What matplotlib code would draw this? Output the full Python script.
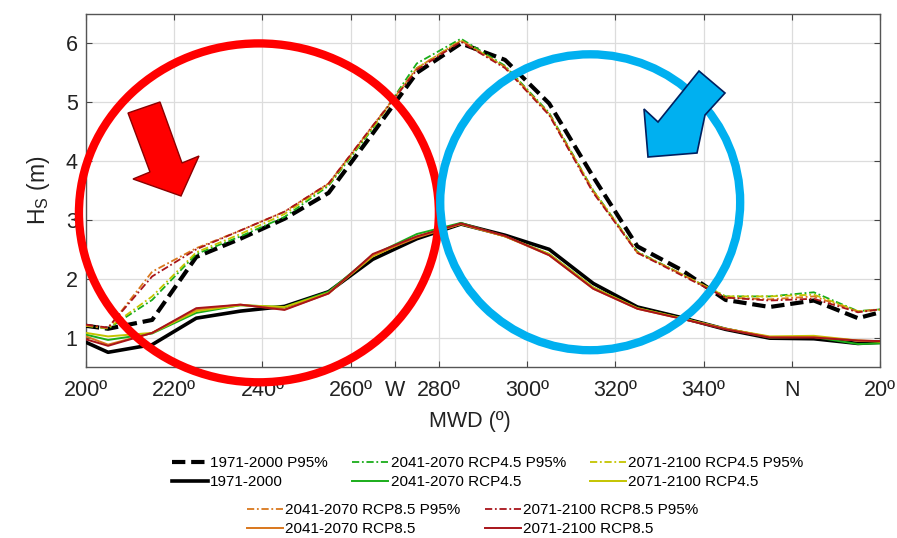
import matplotlib
matplotlib.use("Agg")
import matplotlib.pyplot as plt
from matplotlib.patches import Ellipse, Polygon

plt.rcParams['font.family'] = ['Liberation Sans', 'DejaVu Sans']

# mean wave direction (bin centres, with the ends of the range)
mwd = [200, 205, 215, 225, 235, 245, 255, 265, 275, 285, 295, 305, 315, 325, 335, 345, 355, 365, 375, 380]

hist_p95 = [1.20, 1.15, 1.30, 2.37, 2.68, 3.02, 3.46, 4.47, 5.50, 6.00, 5.72, 4.98, 3.73, 2.55, 2.15, 1.64, 1.52, 1.63, 1.33, 1.43]
hist = [0.92, 0.75, 0.88, 1.33, 1.45, 1.53, 1.78, 2.33, 2.68, 2.93, 2.74, 2.50, 1.92, 1.52, 1.34, 1.14, 0.99, 0.98, 0.90, 0.92]

rcp45_mid_p95 = [1.20, 1.15, 1.64, 2.42, 2.72, 3.05, 3.58, 4.55, 5.66, 6.08, 5.62, 4.82, 3.50, 2.46, 2.08, 1.70, 1.70, 1.77, 1.45, 1.48]
rcp45_mid = [1.05, 0.96, 1.07, 1.42, 1.55, 1.52, 1.78, 2.40, 2.76, 2.95, 2.72, 2.42, 1.85, 1.50, 1.33, 1.15, 1.00, 1.01, 0.89, 0.90]
rcp45_end_p95 = [1.20, 1.16, 1.70, 2.45, 2.76, 3.10, 3.60, 4.57, 5.58, 6.05, 5.60, 4.80, 3.50, 2.45, 2.08, 1.70, 1.70, 1.73, 1.45, 1.47]
rcp45_end = [1.08, 1.02, 1.08, 1.45, 1.55, 1.52, 1.76, 2.38, 2.72, 2.93, 2.72, 2.42, 1.85, 1.50, 1.33, 1.15, 1.02, 1.03, 0.95, 0.93]

rcp85_mid_p95 = [1.21, 1.16, 2.12, 2.52, 2.82, 3.14, 3.62, 4.60, 5.58, 6.05, 5.60, 4.80, 3.48, 2.44, 2.08, 1.68, 1.65, 1.70, 1.44, 1.48]
rcp85_mid = [1.02, 0.88, 1.08, 1.48, 1.56, 1.48, 1.75, 2.40, 2.70, 2.93, 2.72, 2.40, 1.83, 1.49, 1.32, 1.15, 1.01, 1.01, 0.95, 0.94]
rcp85_end_p95 = [1.22, 1.17, 2.04, 2.50, 2.82, 3.14, 3.62, 4.60, 5.55, 6.03, 5.58, 4.78, 3.46, 2.44, 2.06, 1.68, 1.63, 1.66, 1.43, 1.48]
rcp85_end = [0.97, 0.86, 1.08, 1.50, 1.56, 1.47, 1.75, 2.42, 2.72, 2.94, 2.73, 2.40, 1.83, 1.49, 1.32, 1.14, 1.00, 1.00, 0.95, 0.94]

xtick_pos = [200, 220, 240, 260, 270, 280, 300, 320, 340, 360, 380]
xtick_labels = ['200º', '220º', '240º', '260º', 'W', '280º', '300º', '320º', '340º', 'N', '20º']

green = '#1aad1a'
yellow = '#c4c400'
orange = '#d9771c'
darkred = '#a8141a'

W, H = 897, 538
AX_L, AX_R, AX_T, AX_B = 86, 880, 14, 367


def px(x, y):
    # figure pixel -> figure fraction
    return (x / W, 1 - y / H)


fig = plt.figure(figsize=(W / 100, H / 100), dpi=100)
ax = fig.add_axes([AX_L / W, 1 - AX_B / H, (AX_R - AX_L) / W, (AX_B - AX_T) / H])

p95_ls = (0, (4, 1.5, 1, 1.5))
l1, = ax.plot(mwd, hist_p95, color='black', lw=3.0, ls=(0, (3.2, 1.4)), zorder=3)
l2, = ax.plot(mwd, hist, color='black', lw=2.6, zorder=3)
l3, = ax.plot(mwd, rcp45_mid_p95, color=green, lw=1.3, ls=p95_ls, zorder=4)
l4, = ax.plot(mwd, rcp45_mid, color=green, lw=1.4, zorder=4)
l5, = ax.plot(mwd, rcp45_end_p95, color=yellow, lw=1.3, ls=p95_ls, zorder=4)
l6, = ax.plot(mwd, rcp45_end, color=yellow, lw=1.4, zorder=4)
l7, = ax.plot(mwd, rcp85_mid_p95, color=orange, lw=1.3, ls=p95_ls, zorder=4)
l8, = ax.plot(mwd, rcp85_mid, color=orange, lw=1.4, zorder=4)
l9, = ax.plot(mwd, rcp85_end_p95, color=darkred, lw=1.3, ls=p95_ls, zorder=4)
l10, = ax.plot(mwd, rcp85_end, color=darkred, lw=1.4, zorder=4)

ax.set_xlim(200, 380)
ax.set_ylim(0.5, 6.5)
ax.set_xticks(xtick_pos)
ax.set_xticklabels(xtick_labels)
ax.set_yticks([1, 2, 3, 4, 5, 6])
ax.tick_params(direction='in', length=4, width=0.8, color='#444444', labelsize=15.5,
               top=True, right=True, labelcolor='#222222')
ax.tick_params(axis='x', pad=9)
ax.tick_params(axis='y', pad=6)
ax.grid(True, color='#dcdcdc', linewidth=0.9)
ax.set_axisbelow(True)
for s in ax.spines.values():
    s.set_color('#555555')
    s.set_linewidth(1.0)

ax.set_xlabel('MWD (º)', fontsize=15.5, color='#222222')
ax.xaxis.set_label_coords((470 - AX_L) / (AX_R - AX_L), -(411 - AX_B) / (AX_B - AX_T))
ax.set_ylabel(r'H$_\mathregular{S}$ (m)', fontsize=16.5, color='#222222')
ax.yaxis.set_label_coords(-(AX_L - 52) / (AX_R - AX_L), 0.5)

# highlight circles
ax.add_patch(Ellipse((239.2, 3.12), 81.6, 5.76, fill=False, edgecolor='#ff0000', lw=6,
                     clip_on=False, zorder=6))
ax.add_patch(Ellipse((314.3, 3.3), 68, 5.03, fill=False, edgecolor='#00b0f0', lw=6,
                     clip_on=False, zorder=6))

# arrows
red_arrow = [px(128, 113), px(160, 102), px(182, 163), px(199, 156), px(181, 196), px(133, 179), px(150, 172)]
blue_arrow = [px(699, 71), px(725, 93), px(705, 115), px(697, 153), px(648, 157), px(644, 109), px(658, 122)]
fig.patches.append(Polygon(red_arrow, closed=True, transform=fig.transFigure, facecolor='#ff0000',
                           edgecolor='#8b0000', lw=1.0, zorder=7))
fig.patches.append(Polygon(blue_arrow, closed=True, transform=fig.transFigure, facecolor='#00b0f0',
                           edgecolor='#002060', lw=1.2, zorder=7))

# legends
leg_kw = dict(frameon=False, fontsize=11, handlelength=2.35, handletextpad=0.15,
              labelspacing=0.35, borderpad=0, borderaxespad=0, loc='upper left')
fig.legend([l1, l2, l3, l4, l5, l6],
           ['1971-2000 P95%', '1971-2000', '2041-2070 RCP4.5 P95%', '2041-2070 RCP4.5',
            '2071-2100 RCP4.5 P95%', '2071-2100 RCP4.5'],
           ncol=3, columnspacing=1.6, bbox_to_anchor=px(172, 456), **leg_kw)
fig.legend([l7, l8, l9, l10],
           ['2041-2070 RCP8.5 P95%', '2041-2070 RCP8.5', '2071-2100 RCP8.5 P95%', '2071-2100 RCP8.5'],
           ncol=2, columnspacing=1.6, bbox_to_anchor=px(247, 503), **leg_kw)

fig.savefig('out.png', dpi=100)
